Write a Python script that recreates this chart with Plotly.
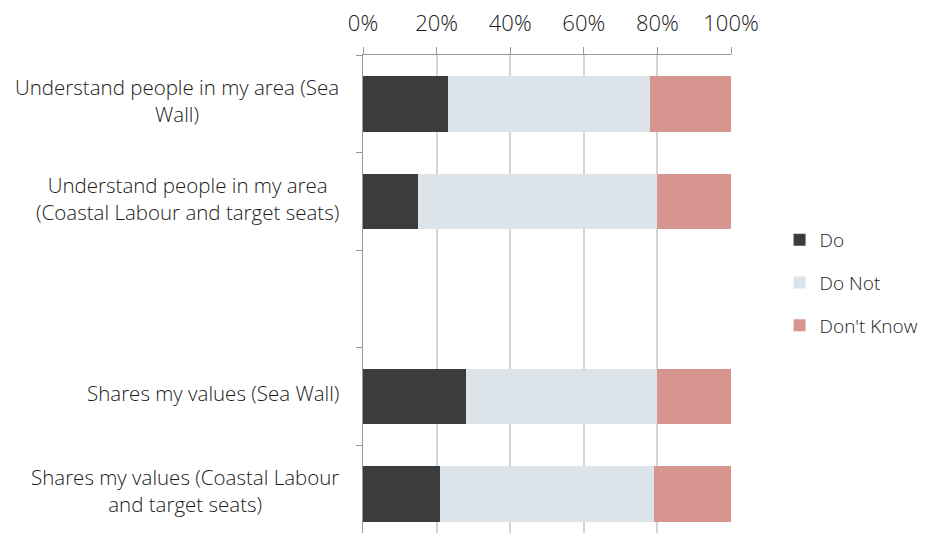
import plotly.graph_objects as go

categories = [
    "Understand people in my area (Sea<br>Wall)",
    "Understand people in my area<br>(Coastal Labour and target seats)",
    " ",
    "Shares my values (Sea Wall)",
    "Shares my values (Coastal Labour<br>and target seats)",
]
do_vals = [23, 15, None, 28, 21]
do_not_vals = [55, 65, None, 52, 58]
dont_know_vals = [22, 20, None, 20, 21]
series_names = ["Do", "Do Not", "Don't Know"]
colors = ["#3c3c3c", "#dce4ea", "#d79590"]
x_ticks = [0, 20, 40, 60, 80, 100]
x_tick_labels = ["0%", "20%", "40%", "60%", "80%", "100%"]

FONT = "'Open Sans', Lato, sans-serif"
FS = 20.5
fig = go.Figure()
for name, vals, col in zip(series_names, [do_vals, do_not_vals, dont_know_vals], colors):
    fig.add_trace(go.Bar(
        y=categories, x=vals, name=name, orientation="h",
        marker=dict(color=col, line=dict(width=0)),
        legendgroup=name,
    ))

for c in categories:
    if c.strip():
        fig.add_annotation(
            x=-0.06, xref="paper", y=c, yref="y", text=c, showarrow=False,
            xanchor="right", align="center", yshift=3,
            font=dict(size=FS, color="#1a1a1a", family=FONT, weight=300),
        )

# page body has an 8px default margin; keep figure within the 930x541 window
fig.update_layout(
    barmode="stack",
    width=922, height=525,
    margin=dict(l=355, r=199, t=47, b=0, autoexpand=False),
    plot_bgcolor="white", paper_bgcolor="white",
    bargap=0.43,
    font=dict(family=FONT, size=FS, color="#1a1a1a", weight=300),
    legend=dict(x=1.132, y=0.523, yanchor="middle", xanchor="left",
                font=dict(size=19, color="#1a1a1a", weight=300), tracegroupgap=15,
                itemwidth=30, borderwidth=0),
    showlegend=True,
)
fig.update_xaxes(
    side="top", range=[0, 100], tickvals=x_ticks, ticktext=x_tick_labels,
    showgrid=True, gridcolor="#d4d4d4", gridwidth=1.5,
    showline=True, linecolor="#999999", linewidth=1,
    ticks="outside", ticklen=7, tickcolor="#999999",
    ticklabelstandoff=7, automargin=False,
    zeroline=False, tickfont=dict(size=22, color="#1a1a1a", weight=300),
)
fig.update_yaxes(
    range=[4.40, -0.5], showticklabels=False, automargin=False,
    showline=True, linecolor="#999999", linewidth=1,
    ticks="outside", ticklen=6, tickcolor="#999999", tickson="boundaries",
    showgrid=False,
)
fig.write_html("out.html")
